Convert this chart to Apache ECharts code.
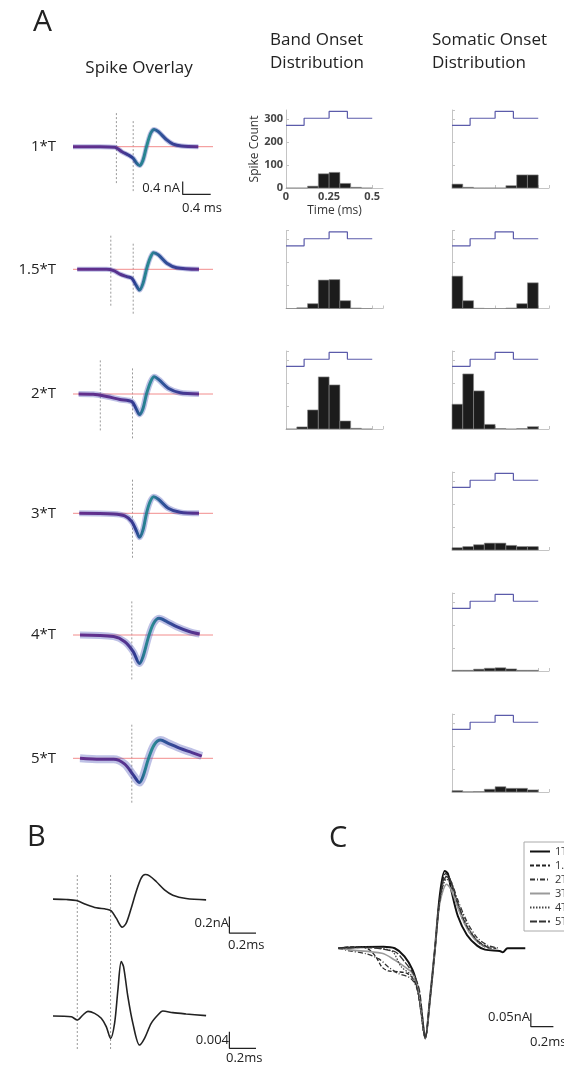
<!DOCTYPE html>
<html>
<head>
<meta charset="utf-8">
<title>Spike onset distributions</title>
<script src="https://cdn.jsdelivr.net/npm/echarts@6/dist/echarts.min.js"></script>
<style>
html, body { margin: 0; padding: 0; background: #fff; }
#chart { width: 564px; height: 1068px; }
</style>
</head>
<body>
<div id="chart"></div>
<script>
// stimulus multiples, one row each
const rowNames = ['1*T', '1.5*T', '2*T', '3*T', '4*T', '5*T'];
const legendNames = ['1T', '1.5T', '2T', '3T', '4T', '5T'];

// spike overlay waveforms, [time ms, current nA]
const spike1 = [[0, 0], [0.39, 0], [0.6, -0.02], [0.7, -0.16], [0.79, -0.26], [0.86, -0.36], [0.91, -0.52], [0.95, -0.59], [1.0, -0.42], [1.05, 0], [1.11, 0.42], [1.16, 0.54], [1.22, 0.47], [1.34, 0.21], [1.43, 0.08], [1.55, 0.02], [1.79, 0]];
const spike15 = [[0.06, 0], [0.48, 0], [0.58, -0.04], [0.67, -0.15], [0.77, -0.23], [0.84, -0.28], [0.9, -0.49], [0.95, -0.65], [1.0, -0.44], [1.05, 0], [1.1, 0.34], [1.15, 0.52], [1.22, 0.45], [1.34, 0.19], [1.48, 0.05], [1.8, 0]];
const spike2 = [[0.08, 0], [0.29, -0.01], [0.48, -0.08], [0.67, -0.17], [0.84, -0.24], [0.9, -0.45], [0.95, -0.64], [1.0, -0.45], [1.05, 0], [1.11, 0.39], [1.16, 0.54], [1.23, 0.44], [1.36, 0.18], [1.53, 0.04], [1.8, 0]];
const spike3 = [[0.09, 0], [0.58, -0.02], [0.74, -0.08], [0.84, -0.26], [0.91, -0.57], [0.95, -0.75], [1.0, -0.52], [1.05, 0], [1.1, 0.36], [1.15, 0.52], [1.22, 0.44], [1.36, 0.16], [1.53, 0.03], [1.8, 0]];
const spike4 = [[0.1, 0], [0.58, -0.05], [0.74, -0.21], [0.86, -0.52], [0.95, -0.89], [1.0, -0.68], [1.08, -0.05], [1.15, 0.36], [1.23, 0.52], [1.34, 0.42], [1.48, 0.26], [1.67, 0.1], [1.81, 0.03]];
const spike5 = [[0.1, 0], [0.39, -0.03], [0.58, -0.03], [0.74, -0.18], [0.86, -0.52], [0.95, -0.76], [1.0, -0.57], [1.08, 0], [1.16, 0.42], [1.25, 0.57], [1.36, 0.47], [1.53, 0.31], [1.7, 0.18], [1.84, 0.07]];
const spikeRows = [spike1, spike15, spike2, spike3, spike4, spike5];
// onset times (ms) marked by dotted lines
const onsetMarks = [[0.62, 0.86], [0.54, 0.86], [0.39, 0.85], [0.85], [0.84], [0.84]];

// onset histograms, bins of 0.0625 ms starting at 0
const binWidth = 0.0625;
const bandCounts = [
    [0, 0, 8, 62, 68, 20, 3, 0],
    [0, 3, 21, 124, 126, 34, 2, 0],
    [0, 9, 83, 227, 192, 35, 3, 0]
];
const somaCounts = [
    [17, 3, 0, 0, 0, 10, 57, 57],
    [141, 34, 1, 0, 0, 2, 21, 112],
    [108, 240, 166, 20, 2, 0, 2, 10],
    [10, 15, 23, 30, 30, 20, 15, 15],
    [3, 3, 8, 12, 14, 9, 3, 3],
    [6, 1, 2, 12, 23, 16, 16, 9]
];
// stimulus step drawn above each histogram
const stimEdges = [0, 0.105, 0.25, 0.356, 0.5];
const stimLevels = [273, 304, 334, 304];

// panel B: mean current (nA) and band signal
const meanCurrent = [[0, 0], [0.1, -0.004], [0.175, -0.016], [0.25, -0.064], [0.325, -0.104], [0.4, -0.12], [0.4375, -0.14], [0.475, -0.228], [0.52, -0.336], [0.55, -0.288], [0.5875, -0.108], [0.625, 0.092], [0.6625, 0.252], [0.6925, 0.296], [0.725, 0.28], [0.775, 0.212], [0.8375, 0.112], [0.9, 0.048], [1.0, 0.008], [1.15, -0.008]];
const bandSignal = [[0, 0], [0.1375, -0.0002], [0.1825, -0.00096], [0.225, 0.00024], [0.2625, 0.00112], [0.3125, 0.00064], [0.3625, -0.00056], [0.4, -0.00256], [0.4325, -0.00536], [0.4625, -0.00176], [0.4875, 0.00624], [0.5125, 0.01304], [0.53, 0.01184], [0.5625, 0.00464], [0.6, -0.00176], [0.65, -0.00696], [0.6875, -0.00536], [0.7375, -0.00176], [0.7875, 0.00024], [0.825, 0.0012], [0.9, 0.0008], [1.0, 0.00048], [1.15, 0.00008]];
const onsetB = [0.1825, 0.4325];

// panel C: mean waveform per stimulus level (nA)
const mean1T = [[0, 0], [0.2, 0.005], [0.4, 0.006], [0.5, 0], [0.586, -0.03], [0.657, -0.08], [0.7, -0.14], [0.735, -0.23], [0.771, -0.338], [0.81, -0.2], [0.857, 0], [0.9, 0.2], [0.943, 0.29], [0.971, 0.28], [1.0, 0.22], [1.06, 0.12], [1.14, 0.05], [1.23, 0.01], [1.3, -0.005], [1.43, -0.01], [1.457, -0.015], [1.5, 0], [1.657, 0]];
const mean15T = [[0, 0], [0.1, 0.005], [0.25, 0], [0.33, -0.03], [0.386, -0.07], [0.443, -0.085], [0.529, -0.088], [0.614, -0.095], [0.671, -0.12], [0.714, -0.18], [0.771, -0.335], [0.81, -0.2], [0.857, 0], [0.9, 0.19], [0.95, 0.28], [0.98, 0.27], [1.03, 0.2], [1.1, 0.11], [1.2, 0.04], [1.3, 0.005], [1.4, 0]];
const mean2T = [[0, 0], [0.1, -0.01], [0.24, -0.02], [0.36, -0.04], [0.443, -0.07], [0.529, -0.094], [0.643, -0.113], [0.7, -0.156], [0.771, -0.335], [0.81, -0.2], [0.857, 0], [0.9, 0.18], [0.96, 0.27], [1.0, 0.25], [1.06, 0.18], [1.14, 0.1], [1.23, 0.04], [1.33, 0.01], [1.43, 0]];
const mean3T = [[0, 0], [0.1, -0.006], [0.386, -0.019], [0.5, -0.044], [0.586, -0.069], [0.657, -0.094], [0.71, -0.15], [0.771, -0.337], [0.81, -0.2], [0.857, 0], [0.9, 0.17], [0.96, 0.24], [1.0, 0.22], [1.07, 0.14], [1.16, 0.06], [1.26, 0.015], [1.36, 0]];
const mean4T = [[0, 0], [0.2, 0.004], [0.47, -0.01], [0.557, -0.069], [0.643, -0.1], [0.7, -0.15], [0.771, -0.336], [0.81, -0.2], [0.857, 0], [0.9, 0.18], [0.96, 0.26], [1.0, 0.24], [1.07, 0.16], [1.15, 0.08], [1.25, 0.02], [1.36, 0]];
const mean5T = [[0, 0], [0.2, 0.003], [0.5, -0.013], [0.586, -0.05], [0.671, -0.1], [0.72, -0.16], [0.771, -0.336], [0.81, -0.2], [0.857, 0], [0.9, 0.18], [0.95, 0.27], [0.99, 0.26], [1.05, 0.18], [1.13, 0.09], [1.23, 0.03], [1.34, 0]];
const meanByLevel = [mean1T, mean15T, mean2T, mean3T, mean4T, mean5T];

const font = "'Open Sans', sans-serif";
const spikeBase = [146.7, 269.3, 394, 513.3, 635, 758.3];
const histBase = [188, 308.5, 429, 550, 671, 792];
const haloWidth = [5, 5, 6, 6, 7, 8];
const levelStyles = [
    { color: '#111', width: 2, type: 'solid' },
    { color: '#222', width: 1.3, type: [4, 2] },
    { color: '#333', width: 1.3, type: [5, 2, 1, 2] },
    { color: '#9a9a9a', width: 1.6, type: 'solid' },
    { color: '#444', width: 1.3, type: [1.5, 1.5] },
    { color: '#333', width: 1.3, type: [7, 2] }
];

const grid = [], xAxis = [], yAxis = [], series = [];

function addGrid(g, x, y) {
    grid.push(g);
    xAxis.push(Object.assign({ type: 'value', gridIndex: grid.length - 1, show: false }, x));
    yAxis.push(Object.assign({ type: 'value', gridIndex: grid.length - 1, show: false }, y));
    return grid.length - 1;
}

function plain(idx, data, style, extra) {
    series.push(Object.assign({
        type: 'line', xAxisIndex: idx, yAxisIndex: idx, data: data,
        symbol: 'none', silent: true, clip: false, animation: false,
        lineStyle: style, itemStyle: { color: style.color }
    }, extra || {}));
}

const dotted = { color: '#9a9a9a', width: 1, type: [2, 2] };
const barStyle = { color: '#222', width: 1.2 };

const traceColor = {
    type: 'linear', x: 0, y: 0, x2: 1, y2: 0,
    colorStops: [
        { offset: 0, color: '#652e8c' },
        { offset: 0.38, color: '#56338f' },
        { offset: 0.47, color: '#2c3c92' },
        { offset: 0.53, color: '#287c92' },
        { offset: 0.6, color: '#2a8a92' },
        { offset: 0.67, color: '#2d5799' },
        { offset: 0.82, color: '#3a3c94' },
        { offset: 1, color: '#652e8c' }
    ]
};

// panel A, spike overlays
spikeRows.forEach((trace, r) => {
    const idx = addGrid(
        { left: 73, top: spikeBase[r] - 60, width: 140, height: 120 },
        { min: 0, max: 2 },
        { min: -1.875, max: 1.875 }
    );
    onsetMarks[r].forEach((t, k) => {
        const top = onsetMarks[r].length > 1 && k === 1 ? 0.8 : 1.05;
        const bottom = onsetMarks[r].length > 1 && k === 0 ? -1.15 : -1.45;
        plain(idx, [[t, top], [t, bottom]], dotted);
    });
    plain(idx, [[0, 0], [2, 0]], { color: '#f28c8c', width: 1 });
    plain(idx, trace, { color: 'rgba(55,65,175,0.33)', width: haloWidth[r] }, { smooth: 0.3 });
    plain(idx, trace, { color: traceColor, width: 3 }, { smooth: 0.3 });
    if (r === 0) {
        plain(idx, [[1.567, -1.09], [1.567, -1.49], [1.967, -1.49]], barStyle);
    }
});

// panel A, onset histograms
function stimStep() {
    const pts = [];
    stimLevels.forEach((v, i) => {
        pts.push([stimEdges[i], v], [stimEdges[i + 1], v]);
    });
    return pts;
}

function histogram(left, base, counts, labelled) {
    const h = 78;
    const axisLine = { show: true, lineStyle: { color: '#c4c4c4', width: 1 } };
    const tick = { show: true, inside: true, length: 3, lineStyle: { color: '#c4c4c4' } };
    const label = { show: labelled, fontSize: 11, color: '#444', fontFamily: font, fontWeight: 'bold', margin: 3, showMaxLabel: false };
    const idx = addGrid(
        { left: left, top: base - h, width: 97, height: h },
        {
            show: true, min: 0, max: 0.5625, interval: 0.25, axisLine: axisLine, axisTick: tick,
            splitLine: { show: false }, axisLabel: label,
            name: labelled ? 'Time (ms)' : '', nameLocation: 'middle', nameGap: 17,
            nameTextStyle: { fontSize: 12, color: '#333', fontFamily: font }
        },
        {
            show: true, min: 0, max: 340, interval: 100, axisLine: axisLine, axisTick: tick,
            splitLine: { show: false }, axisLabel: label,
            name: labelled ? 'Spike Count' : '', nameLocation: 'middle', nameGap: 25,
            nameTextStyle: { fontSize: 12, color: '#333', fontFamily: font }
        }
    );
    series.push({
        type: 'custom', xAxisIndex: idx, yAxisIndex: idx, silent: true, animation: false,
        data: counts.map((c, i) => [i * binWidth, (i + 1) * binWidth, c]),
        encode: { x: [0, 1], y: 2 },
        renderItem: (params, api) => {
            const p0 = api.coord([api.value(0), 0]);
            const p1 = api.coord([api.value(1), api.value(2)]);
            return {
                type: 'rect',
                shape: { x: p0[0], y: p1[1], width: p1[0] - p0[0], height: p0[1] - p1[1] },
                style: { fill: '#1c1c1c', stroke: '#8a8a8a', lineWidth: 0.6 }
            };
        }
    });
    plain(idx, stimStep(), { color: '#5b5baa', width: 1.2 });
}

bandCounts.forEach((c, r) => histogram(286, histBase[r], c, r === 0));
somaCounts.forEach((c, r) => histogram(452, histBase[r], c, false));

// panel B
const bTop = addGrid({ left: 53, top: 860, width: 213, height: 190 }, { min: 0, max: 1.6 }, { min: -1.81, max: 0.47 });
onsetB.forEach(t => plain(bTop, [[t, 0.29], [t, -1.81]], dotted));
plain(bTop, meanCurrent, { color: '#222', width: 1.6 }, { smooth: 0.3 });
plain(bTop, [[1.325, -0.208], [1.325, -0.408], [1.525, -0.408]], barStyle);
const bBot = addGrid({ left: 53, top: 960, width: 213, height: 100 }, { min: 0, max: 1.6 }, { min: -0.01056, max: 0.01344 });
plain(bBot, bandSignal, { color: '#222', width: 1.6 }, { smooth: 0.3 });
plain(bBot, [[1.325, -0.00376], [1.325, -0.00776], [1.525, -0.00776]], barStyle);

// panel C
const cIdx = addGrid({ left: 338.3, top: 860, width: 233.4, height: 200 }, { min: 0, max: 2 }, { min: -0.419, max: 0.331 });
meanByLevel.forEach((trace, i) => {
    plain(cIdx, trace, levelStyles[i], { name: legendNames[i], smooth: 0.3 });
});
plain(cIdx, [[1.706, -0.244], [1.706, -0.294], [1.906, -0.294]], barStyle);

function text(str, x, y, size, align, extra) {
    return Object.assign({
        type: 'text', x: x, y: y, silent: true,
        style: {
            text: str, fontSize: size, fontFamily: font, fill: '#222',
            textAlign: align || 'left', textVerticalAlign: 'middle',
            align: align || 'left', verticalAlign: 'middle'
        }
    }, extra || {});
}

const labels = [
    text('A', 33, 22, 30),
    text('Spike Overlay', 139, 68, 17, 'center'),
    text('Band Onset', 270, 40, 17),
    text('Distribution', 270, 63, 17),
    text('Somatic Onset', 432, 40, 17),
    text('Distribution', 432, 63, 17),
    text('0.4 nA', 180, 188, 13, 'right'),
    text('0.4 ms', 182, 208, 13),
    text('B', 27, 838, 29),
    text('0.2nA', 229, 923, 13, 'right'),
    text('0.2ms', 228, 945, 13),
    text('0.004', 229, 1040, 13, 'right'),
    text('0.2ms', 226, 1058, 13),
    text('C', 329, 839, 29),
    text('0.05nA', 530, 1017, 13, 'right'),
    text('0.2ms', 530, 1042, 13)
];
rowNames.forEach((n, r) => labels.push(text(n, 56, spikeBase[r], 15, 'right')));

const chart = echarts.init(document.getElementById('chart'));
chart.setOption({
    animation: false,
    backgroundColor: '#fff',
    grid: grid,
    xAxis: xAxis,
    yAxis: yAxis,
    series: series,
    legend: {
        data: legendNames, orient: 'vertical', left: 524, top: 842,
        itemWidth: 20, itemHeight: 8, itemGap: 3, padding: [4, 5],
        borderColor: '#aaa', borderWidth: 1, selectedMode: false,
        itemStyle: { opacity: 0 },
        textStyle: { fontSize: 11, color: '#333', fontFamily: font }
    },
    graphic: labels
});
</script>
</body>
</html>
